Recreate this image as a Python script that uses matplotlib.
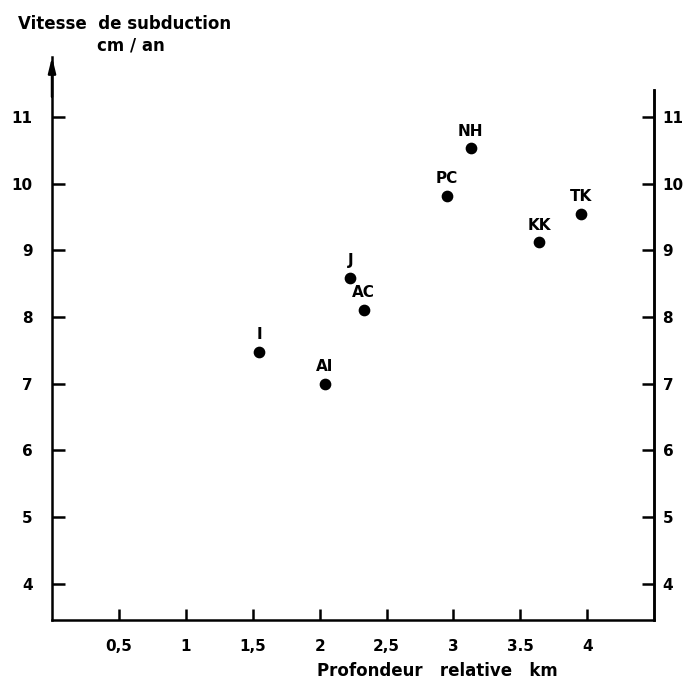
import matplotlib
matplotlib.use("Agg")
import matplotlib.pyplot as plt

# données
noms = ["I", "AI", "J", "AC", "PC", "NH", "KK", "TK"]
profondeur = [1.55, 2.04, 2.23, 2.33, 2.95, 3.13, 3.64, 3.95]
vitesse = [7.48, 7.0, 8.59, 8.11, 9.82, 10.53, 9.12, 9.55]
xticks = [0.5, 1, 1.5, 2, 2.5, 3, 3.5, 4]
xtick_labels = ["0,5", "1", "1,5", "2", "2,5", "3", "3.5", "4"]
yticks = [4, 5, 6, 7, 8, 9, 10, 11]

plt.rcParams["font.family"] = ["Liberation Sans Narrow", "DejaVu Sans"]
plt.rcParams["font.weight"] = "bold"

fig = plt.figure(figsize=(6.89, 6.85), dpi=100)
ax = fig.add_axes([0.0755, 0.095, 0.874, 0.822])
ax.set_xlim(0, 4.5)
ax.set_ylim(3.46, 11.9)

ax.scatter(profondeur, vitesse, s=55, color="black", zorder=3)
for n, x, y in zip(noms, profondeur, vitesse):
    ax.annotate(n, (x, y), textcoords="offset points", xytext=(0, 7),
                ha="center", va="bottom", fontsize=11, fontweight="bold")

for s in ["left", "right", "bottom"]:
    ax.spines[s].set_linewidth(1.8)
ax.spines["top"].set_visible(False)
ax.spines["right"].set_bounds(3.46, 11.4)

# flèche en haut de l'axe vertical
ax.annotate("", xy=(0, 11.9), xytext=(0, 11.3), annotation_clip=False,
            arrowprops=dict(arrowstyle="-|>,head_length=0.9,head_width=0.22",
                            color="black", lw=1.8, shrinkA=0, shrinkB=0))

ax.set_xticks(xticks)
ax.set_xticklabels(xtick_labels, fontsize=11, fontweight="bold")
ax.set_yticks(yticks)
ax.set_yticklabels([str(v) for v in yticks], fontsize=11, fontweight="bold")
ax.tick_params(axis="x", direction="in", length=8, width=1.8, pad=14)
ax.tick_params(axis="y", direction="in", length=9, width=1.8, pad=14,
               left=True, right=False, labelleft=True, labelright=False)

# graduation de droite
ax2 = ax.twinx()
ax2.set_ylim(ax.get_ylim())
ax2.set_yticks(yticks)
ax2.set_yticklabels([str(v) for v in yticks], fontsize=11, fontweight="bold")
ax2.tick_params(axis="y", direction="in", length=9, width=1.8, pad=6)
for s in ["left", "top", "bottom"]:
    ax2.spines[s].set_visible(False)
ax2.spines["right"].set_linewidth(1.8)
ax2.spines["right"].set_bounds(3.46, 11.4)

fig.text(0.026, 0.965, "Vitesse  de subduction", fontsize=12, fontweight="bold",
         ha="left", va="center")
fig.text(0.19, 0.933, "cm / an", fontsize=12, fontweight="bold",
         ha="center", va="center")
ax.set_xlabel("Profondeur   relative   km", fontsize=12, fontweight="bold",
              labelpad=10)
ax.xaxis.set_label_coords(0.64, -0.075)

fig.savefig("out.png", dpi=100)
